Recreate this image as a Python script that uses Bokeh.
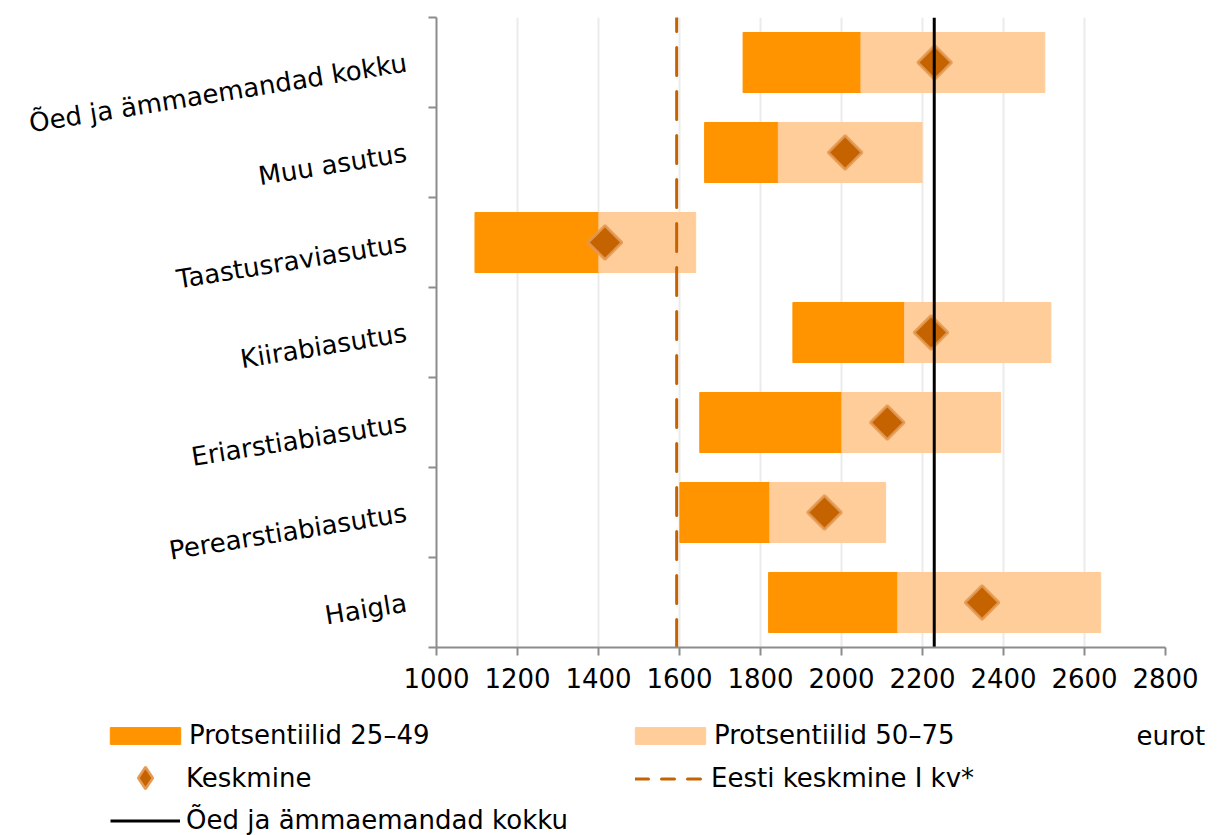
import math
from bokeh.plotting import figure
from bokeh.layouts import column
from bokeh.models import (ColumnDataSource, Range1d, FixedTicker, Legend, LegendItem, Label)
from bokeh.embed import file_html
from bokeh.resources import INLINE

# ---- data ----
categories = ["Õed ja ämmaemandad kokku", "Muu asutus", "Taastusraviasutus",
              "Kiirabiasutus", "Eriarstiabiasutus", "Perearstiabiasutus", "Haigla"]
p25 = [1757, 1662, 1095, 1880, 1650, 1601, 1820]
p50 = [2048, 1844, 1401, 2156, 2001, 1823, 2139]
p75 = [2502, 2199, 1640, 2517, 2393, 2109, 2640]
mean = [2230, 2009, 1416, 2221, 2113, 1958, 2347]
eesti_keskmine = 1593
koik_kokku = 2229
x_ticks = [1000, 1200, 1400, 1600, 1800, 2000, 2200, 2400, 2600, 2800]
legend_labels = ["Protsentiilid 25–49", "Protsentiilid 50–75", "Keskmine",
                 "Eesti keskmine I kv*", "Õed ja ämmaemandad kokku"]
unit_label = "eurot"

FONT = "DejaVu Sans"
FS = "26px"
DARK = "#FF9300"
LIGHT = "#FFCD9A"
MEAN_FILL = "#C46300"
MEAN_LINE = "#E49A55"
AXIS_GREY = "#8c8c8c"
NAN = float("nan")

n = len(categories)
ypos = [n - 0.5 - i for i in range(n)]
src = ColumnDataSource(dict(cat=categories, y=ypos, p25=p25, p50=p50, p75=p75, mean=mean))

p = figure(frame_width=729, frame_height=630, min_border_left=436, min_border_right=53,
           min_border_top=17, min_border_bottom=55,
           x_range=Range1d(x_ticks[0], x_ticks[-1]), y_range=Range1d(0, n),
           output_backend="svg", toolbar_location=None, tools="")
p.outline_line_color = None
p.frame_align = False

p.hbar(y="y", left="p25", right="p50", height=0.667, color=DARK, source=src)
p.hbar(y="y", left="p50", right="p75", height=0.667, color=LIGHT, source=src)
p.scatter(x="mean", y="y", marker="square", angle=math.pi / 4, size=24,
          fill_color=MEAN_FILL, line_color=MEAN_LINE, line_width=3, line_alpha=0.85,
          source=src)
p.line(x=[eesti_keskmine, eesti_keskmine], y=[0, n], line_color=MEAN_FILL,
       line_width=3, line_dash="28 16", line_cap="round")
p.line(x=[koik_kokku, koik_kokku], y=[0, n], line_color="black", line_width=3)

# x axis
p.xaxis.ticker = FixedTicker(ticks=x_ticks)
p.xaxis.axis_line_color = AXIS_GREY
p.xaxis.axis_line_width = 2
p.xaxis.major_tick_line_color = AXIS_GREY
p.xaxis.major_tick_line_width = 2
p.xaxis.major_tick_in = 0
p.xaxis.major_tick_out = 8
p.xaxis.minor_tick_line_color = None
p.xaxis.major_label_text_font = FONT
p.xaxis.major_label_text_font_size = FS
p.xaxis.major_label_text_color = "black"
p.xaxis.major_label_standoff = 12

# y axis: labels at category centres, ticks at category boundaries
p.yaxis.ticker = FixedTicker(ticks=ypos, minor_ticks=list(range(n + 1)))
p.yaxis.major_label_overrides = {y: c for y, c in zip(ypos, categories)}
p.yaxis.major_label_orientation = 0.16
p.yaxis.major_label_standoff = 22
p.yaxis.major_label_text_font = FONT
p.yaxis.major_label_text_font_size = FS
p.yaxis.major_label_text_color = "black"
p.yaxis.axis_line_color = AXIS_GREY
p.yaxis.axis_line_width = 2
p.yaxis.major_tick_line_color = None
p.yaxis.major_tick_in = 0
p.yaxis.major_tick_out = 0
p.yaxis.minor_tick_line_color = AXIS_GREY
p.yaxis.minor_tick_line_width = 2
p.yaxis.minor_tick_in = 0
p.yaxis.minor_tick_out = 8

p.xgrid.ticker = FixedTicker(ticks=x_ticks)
p.xgrid.grid_line_color = ["#ebebeb"] * 9 + ["#d9d9d9"] if False else "#ebebeb"
p.xgrid.grid_line_width = 2
p.ygrid.grid_line_color = None

# ---- legend panel ----
lf = figure(width=1218, height=133, x_range=Range1d(0, 1), y_range=Range1d(0, 1),
            min_border_left=0, min_border_right=0, min_border_top=0, min_border_bottom=0,
            x_axis_type=None, y_axis_type=None,
            output_backend="svg", toolbar_location=None, tools="")
lf.outline_line_color = None
lf.xgrid.grid_line_color = None
lf.ygrid.grid_line_color = None
lf.frame_align = False

# legend proxies (no visible data)
g_dark = lf.hbar(y=[NAN], left=[NAN], right=[NAN], height=1, color=DARK)
g_light = lf.hbar(y=[NAN], left=[NAN], right=[NAN], height=1, color=LIGHT)
g_mean = lf.scatter(x=[NAN], y=[NAN], marker="diamond", size=30, fill_color=MEAN_FILL,
                    line_color=MEAN_LINE, line_width=2.5)
g_eesti = lf.line(x=[NAN, NAN], y=[NAN, NAN], line_color=MEAN_FILL, line_width=3,
                  line_dash="13 13", line_cap="round")
g_total = lf.line(x=[NAN, NAN], y=[NAN, NAN], line_color="black", line_width=3)


def make_legend(label, renderer, loc, glyph_width=70, glyph_height=17, standoff=6):
    return Legend(items=[LegendItem(label=label, renderers=[renderer])], location=loc,
                  orientation="vertical", padding=0, margin=0, spacing=0,
                  border_line_color=None, background_fill_alpha=0,
                  glyph_width=glyph_width, glyph_height=glyph_height, label_standoff=standoff,
                  label_text_font=FONT, label_text_font_size=FS, label_text_color="black",
                  label_height=30)


# area glyphs are drawn inset by 10% inside the legend glyph box
lf.add_layout(make_legend(legend_labels[0], g_dark, (101, 85), glyph_width=88,
                          glyph_height=21, standoff=0))
lf.add_layout(make_legend(legend_labels[1], g_light, (626, 85), glyph_width=88,
                          glyph_height=21, standoff=0))
lf.add_layout(make_legend(legend_labels[2], g_mean, (110, 30), glyph_height=55))
lf.add_layout(make_legend(legend_labels[3], g_eesti, (635, 42)))
lf.add_layout(make_legend(legend_labels[4], g_total, (110, 0)))
lf.add_layout(Label(x=1136, y=100, x_units="screen", y_units="screen", text=unit_label,
                    text_font=FONT, text_font_size=FS, text_baseline="middle",
                    text_color="black"))

layout = column(p, lf, spacing=0)
open("out.html", "w").write(file_html(layout, INLINE))
